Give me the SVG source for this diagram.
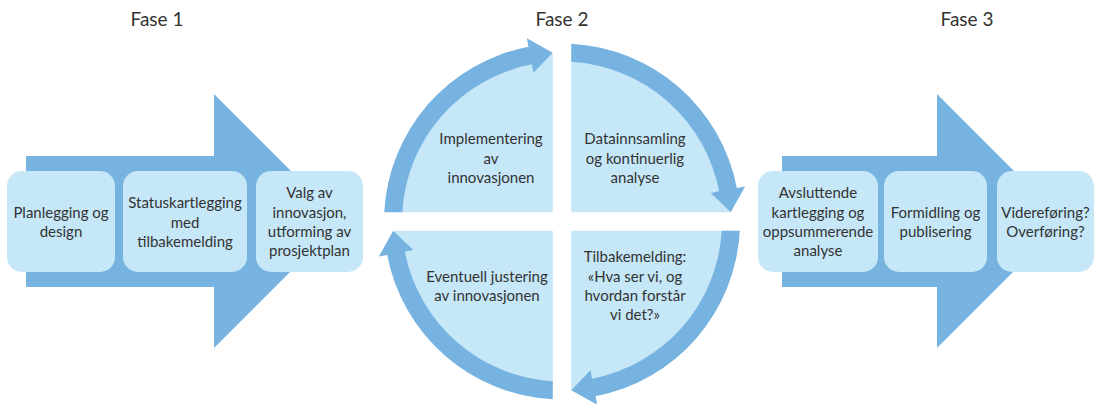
<svg xmlns="http://www.w3.org/2000/svg" width="1103" height="404" viewBox="0 0 1103 404">
  <style>
    .arrow { fill: #77b3e1; }
    .box { fill: #c5e7f8; }
    .label { font-family: Lato, "Open Sans", "Liberation Sans", sans-serif; font-size: 15px; fill: #333333; text-anchor: middle; }
    .phase { font-family: Lato, "Open Sans", "Liberation Sans", sans-serif; font-size: 19px; fill: #333333; text-anchor: middle; }
  </style>
  <defs>
    <!-- one quarter of the cycle ring: arc band from the left edge up to the top, ending in an arrowhead -->
    <path id="quarter" class="arrow" d="M 384.24 212.25 A 178 178 0 0 1 528.48 46.69 L 526.88 38.34 L 552.75 52.75 L 533.47 72.71 L 531.87 64.36 A 160 160 0 0 0 402.27 212.25 Z"/>
  </defs>

  <rect width="1103" height="404" fill="#ffffff"/>

  <!-- phase titles -->
  <g id="titles">
    <text class="phase" x="157" y="26">Fase 1</text>
    <text class="phase" x="562" y="26">Fase 2</text>
    <text class="phase" x="967" y="26">Fase 3</text>
  </g>

  <!-- phase 1 -->
  <g id="phase1">
    <path class="arrow" d="M 26 156 L 214 156 L 214 94 L 341 221 L 214 348 L 214 287 L 26 287 Z"/>
    <g id="p1-plan">
      <rect class="box" x="7" y="171" width="108" height="101" rx="15"/>
      <text class="label" x="61" y="218">Planlegging og</text>
      <text class="label" x="61" y="237">design</text>
    </g>
    <g id="p1-status">
      <rect class="box" x="123" y="171" width="124" height="101" rx="15"/>
      <text class="label" x="185" y="208">Statuskartlegging</text>
      <text class="label" x="185" y="228">med</text>
      <text class="label" x="185" y="247">tilbakemelding</text>
    </g>
    <g id="p1-valg">
      <rect class="box" x="256" y="171" width="107" height="101" rx="15"/>
      <text class="label" x="309.5" y="198">Valg av</text>
      <text class="label" x="309.5" y="218">innovasjon,</text>
      <text class="label" x="309.5" y="237">utforming av</text>
      <text class="label" x="309.5" y="256">prosjektplan</text>
    </g>
  </g>

  <!-- phase 2: four quadrants separated by a white cross -->
  <g id="phase2">
    <circle class="box" cx="562" cy="221.5" r="168"/>
    <rect x="552.75" y="30" width="18.5" height="380" fill="#ffffff"/>
    <rect x="370" y="212.25" width="384" height="18.5" fill="#ffffff"/>
    <g id="connectors">
      <use href="#quarter"/>
      <use href="#quarter" transform="rotate(90 562 221.5)"/>
      <use href="#quarter" transform="rotate(180 562 221.5)"/>
      <use href="#quarter" transform="rotate(270 562 221.5)"/>
    </g>
    <g id="p2-impl">
      <text class="label" x="491" y="144">Implementering</text>
      <text class="label" x="491" y="164">av</text>
      <text class="label" x="491" y="183">innovasjonen</text>
    </g>
    <g id="p2-data">
      <text class="label" x="635" y="144">Datainnsamling</text>
      <text class="label" x="635" y="164">og kontinuerlig</text>
      <text class="label" x="635" y="183">analyse</text>
    </g>
    <g id="p2-tilbake">
      <text class="label" x="635" y="262">Tilbakemelding:</text>
      <text class="label" x="635" y="282">«Hva ser vi, og</text>
      <text class="label" x="635" y="301">hvordan forstår</text>
      <text class="label" x="635" y="320">vi det?»</text>
    </g>
    <g id="p2-just">
      <text class="label" x="487" y="282">Eventuell justering</text>
      <text class="label" x="487" y="301">av innovasjonen</text>
    </g>
  </g>

  <!-- phase 3 -->
  <g id="phase3">
    <path class="arrow" d="M 782 156 L 937 156 L 937 94 L 1064 221 L 937 348 L 937 287 L 782 287 Z"/>
    <g id="p3-avsl">
      <rect class="box" x="758" y="171" width="120" height="101" rx="15"/>
      <text class="label" x="818" y="198">Avsluttende</text>
      <text class="label" x="818" y="218">kartlegging og</text>
      <text class="label" x="818" y="237">oppsummerende</text>
      <text class="label" x="818" y="256">analyse</text>
    </g>
    <g id="p3-form">
      <rect class="box" x="884" y="171" width="103" height="101" rx="15"/>
      <text class="label" x="935.5" y="218">Formidling og</text>
      <text class="label" x="935.5" y="237">publisering</text>
    </g>
    <g id="p3-vid">
      <rect class="box" x="997" y="171" width="97" height="101" rx="15"/>
      <text class="label" x="1045.5" y="218">Videreføring?</text>
      <text class="label" x="1045.5" y="237">Overføring?</text>
    </g>
  </g>
</svg>
